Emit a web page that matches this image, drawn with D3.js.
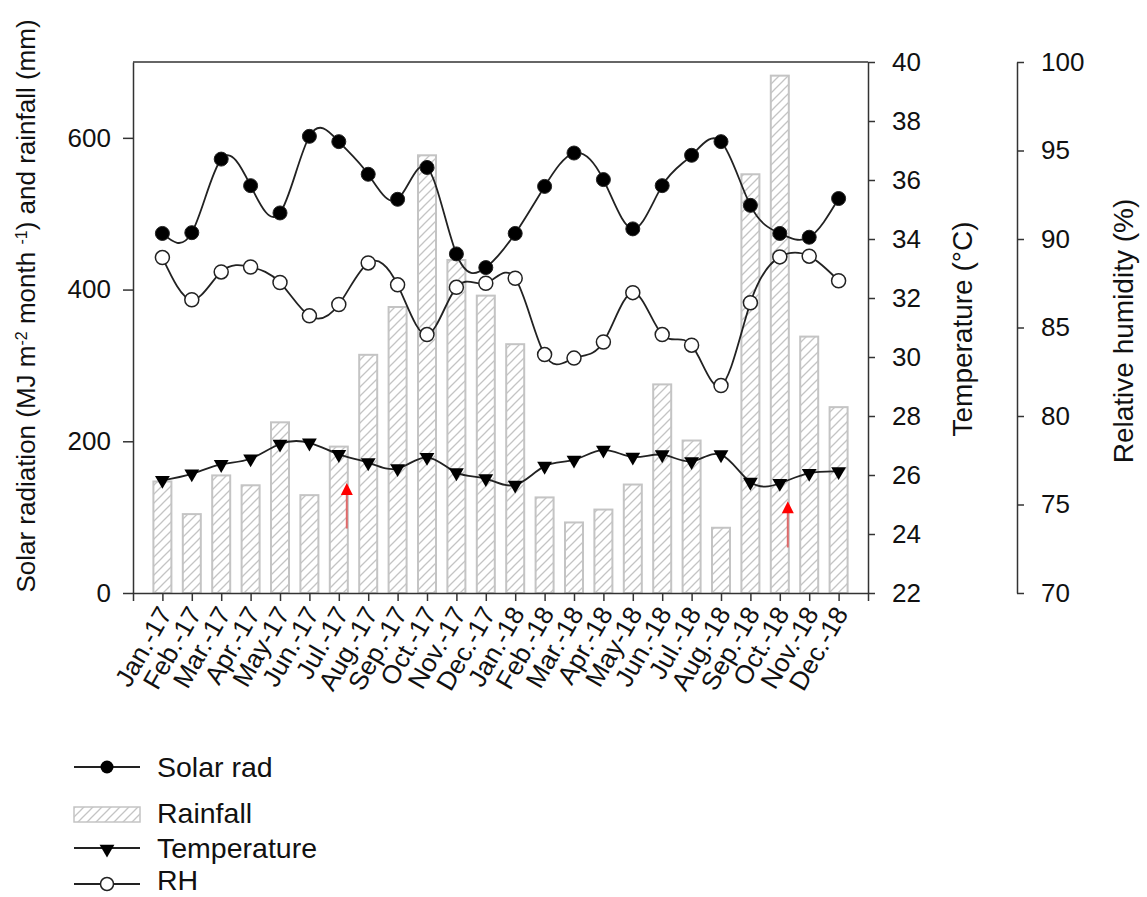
<!DOCTYPE html>
<html lang="en">
<head>
<meta charset="UTF-8">
<title>Solar radiation, rainfall, temperature and RH</title>
<script src="https://d3js.org/d3.v7.min.js"></script>
<style>
  body{margin:0;background:#fff;}
  svg text{font-family:"Liberation Sans",Arial,sans-serif;fill:#111;}
  .axis path,.axis line{stroke:#333;stroke-width:1.5;}
  .axis text{font-size:26px;}
  .title{font-size:28px;}
  .legend text{font-size:28.5px;}
</style>
</head>
<body>
<svg class="chart"></svg>
<script>
// data
let months=["Jan.-17","Feb.-17","Mar.-17","Apr.-17","May-17","Jun.-17","Jul.-17","Aug.-17","Sep.-17","Oct.-17","Nov.-17","Dec.-17",
            "Jan.-18","Feb.-18","Mar.-18","Apr.-18","May-18","Jun.-18","Jul.-18","Aug.-18","Sep.-18","Oct.-18","Nov.-18","Dec.-18"];
let rainfall=[147,104,155,142,225,129,193,314,377,577,439,392,328,126,93,110,143,275,201,86,552,682,338,245];
let solar=[474,475,572,537,501,602,595,552,519,561,447,429,474,536,580,545,480,537,577,595,511,474,469,520];
let temperature=[25.82,26.04,26.36,26.55,27.05,27.09,26.7,26.42,26.22,26.6,26.08,25.88,25.66,26.3,26.51,26.85,26.61,26.69,26.46,26.69,25.76,25.72,26.06,26.12];
let rh=[88.95,86.57,88.14,88.42,87.54,85.66,86.3,88.65,87.41,84.6,87.27,87.5,87.78,83.47,83.27,84.18,86.97,84.6,84.0,81.72,86.4,88.99,89.03,87.64];
let leftTicks=[0,200,400,600];
let tempTicks=[22,24,26,28,30,32,34,36,38,40];
let rhTicks=[70,75,80,85,90,95,100];
// red arrows (month, tail and head in mm on left axis)
let arrows=[{month:"Jul.-17",tail:85,head:145},{month:"Oct.-18",tail:60,head:121}];

let W=1147,H=897;
let pLeft=133,pRight=868,pTop=62,pBottom=593,rhX=1017;

let svg=d3.select('.chart').attr('width',W).attr('height',H);

let x=d3.scalePoint().domain(months).range([pLeft,pRight]).padding(1);
let yL=d3.scaleLinear().domain([0,700]).range([pBottom,pTop]);
let yT=d3.scaleLinear().domain([22,40]).range([pBottom,pTop]);
let yR=d3.scaleLinear().domain([70,100]).range([pBottom,pTop]);

let defs=svg.append('defs');
defs.append('pattern').attr('id','hatch').attr('patternUnits','userSpaceOnUse')
    .attr('width',9).attr('height',9)
  .append('path').attr('d','M-2,2 l4,-4 M0,9 l9,-9 M7,11 l4,-4')
    .attr('stroke','#c4c4c4').attr('stroke-width',1.3);

// bars
let bw=18;
svg.append('g').selectAll('rect').data(rainfall).enter().append('rect')
   .attr('x',(d,i)=>x(months[i])-bw/2)
   .attr('y',d=>yL(d))
   .attr('width',bw)
   .attr('height',d=>pBottom-yL(d))
   .attr('fill','url(#hatch)')
   .attr('stroke','#c4c4c4').attr('stroke-width',2);

// frame top line
svg.append('line').attr('x1',pLeft).attr('x2',pRight).attr('y1',pTop).attr('y2',pTop)
   .attr('stroke','#333').attr('stroke-width',1.5);

// axes
let xAxis=svg.append('g').attr('class','axis')
   .attr('transform','translate(0,'+pBottom+')')
   .call(d3.axisBottom(x).tickSizeOuter(0).tickSize(8));
xAxis.selectAll('text')
   .attr('text-anchor','end')
   .attr('x',0).attr('y',0)
   .attr('dy','0.35em')
   .attr('transform','translate(2,16) rotate(-60)')
   .style('font-size','26px');

svg.append('g').attr('class','axis').attr('transform','translate('+pLeft+',0)')
   .call(d3.axisLeft(yL).tickValues(leftTicks).tickSize(10).tickPadding(12).tickSizeOuter(0));
svg.append('g').attr('class','axis').attr('transform','translate('+pRight+',0)')
   .call(d3.axisRight(yT).tickValues(tempTicks).tickSize(7).tickPadding(17).tickSizeOuter(0));
svg.append('g').attr('class','axis').attr('transform','translate('+rhX+',0)')
   .call(d3.axisRight(yR).tickValues(rhTicks).tickSize(7).tickPadding(17).tickSizeOuter(0));

// axis titles
let lt=svg.append('text').attr('class','title')
   .attr('transform','translate(35,306) rotate(-90)').attr('text-anchor','middle')
   .style('font-size','26px');
lt.append('tspan').text('Solar radiation (MJ m');
lt.append('tspan').text('-2').attr('baseline-shift','super').style('font-size','16px');
lt.append('tspan').text(' month ');
lt.append('tspan').text('-1').attr('baseline-shift','super').style('font-size','16px');
lt.append('tspan').text(') and rainfall (mm)');

svg.append('text').attr('class','title')
   .attr('transform','translate(972,329) rotate(-90)').attr('text-anchor','middle')
   .text('Temperature (°C)');
svg.append('text').attr('class','title')
   .attr('transform','translate(1133,331) rotate(-90)').attr('text-anchor','middle')
   .text('Relative humidity (%)');

// lines
function drawLine(vals,scale){
  svg.append('path').datum(vals)
     .attr('fill','none').attr('stroke','#222').attr('stroke-width',1.8)
     .attr('d',d3.line().x((d,i)=>x(months[i])).y(d=>scale(d)).curve(d3.curveNatural));
}
drawLine(solar,yL);
drawLine(rh,yR);
drawLine(temperature,yT);

let tri=d3.symbol().type(d3.symbolTriangle).size(95);

svg.append('g').selectAll('circle').data(solar).enter().append('circle')
   .attr('cx',(d,i)=>x(months[i])).attr('cy',d=>yL(d)).attr('r',7)
   .attr('fill','#000').attr('stroke','#222');
svg.append('g').selectAll('circle').data(rh).enter().append('circle')
   .attr('cx',(d,i)=>x(months[i])).attr('cy',d=>yR(d)).attr('r',7)
   .attr('fill','#fff').attr('stroke','#222').attr('stroke-width',1.5);
svg.append('g').selectAll('path').data(temperature).enter().append('path')
   .attr('d',tri)
   .attr('transform',(d,i)=>'translate('+x(months[i])+','+yT(d)+') rotate(180)')
   .attr('fill','#000');

// red arrows
arrows.forEach(a=>{
  let ax=x(a.month)+8;
  svg.append('line').attr('x1',ax).attr('x2',ax).attr('y1',yL(a.tail)).attr('y2',yL(a.head)+8)
     .attr('stroke','#e06a6a').attr('stroke-width',2);
  svg.append('path').attr('d','M'+(ax-6)+','+(yL(a.head)+12)+' L'+(ax+6)+','+(yL(a.head)+12)+' L'+ax+','+yL(a.head)+' Z')
     .attr('fill','#f00');
});

// legend
let lg=svg.append('g').attr('class','legend');
let lx0=74,lx1=140,ltx=157;
function legLine(y){
  lg.append('line').attr('x1',lx0).attr('x2',lx1).attr('y1',y).attr('y2',y)
    .attr('stroke','#222').attr('stroke-width',1.8);
}
legLine(767);
lg.append('circle').attr('cx',107).attr('cy',767).attr('r',6.5).attr('fill','#000');
lg.append('text').attr('x',ltx).attr('y',777).text('Solar rad');

lg.append('rect').attr('x',lx0).attr('y',807).attr('width',lx1-lx0).attr('height',15)
  .attr('fill','url(#hatch)').attr('stroke','#c4c4c4').attr('stroke-width',1.5);
lg.append('text').attr('x',ltx).attr('y',823).text('Rainfall');

legLine(848);
lg.append('path').attr('d',tri).attr('transform','translate(107,849) rotate(180)').attr('fill','#000');
lg.append('text').attr('x',ltx).attr('y',858).text('Temperature');

legLine(884);
lg.append('circle').attr('cx',107).attr('cy',884).attr('r',6.5).attr('fill','#fff')
  .attr('stroke','#222').attr('stroke-width',1.5);
lg.append('text').attr('x',ltx).attr('y',890).text('RH');
</script>
</body>
</html>
